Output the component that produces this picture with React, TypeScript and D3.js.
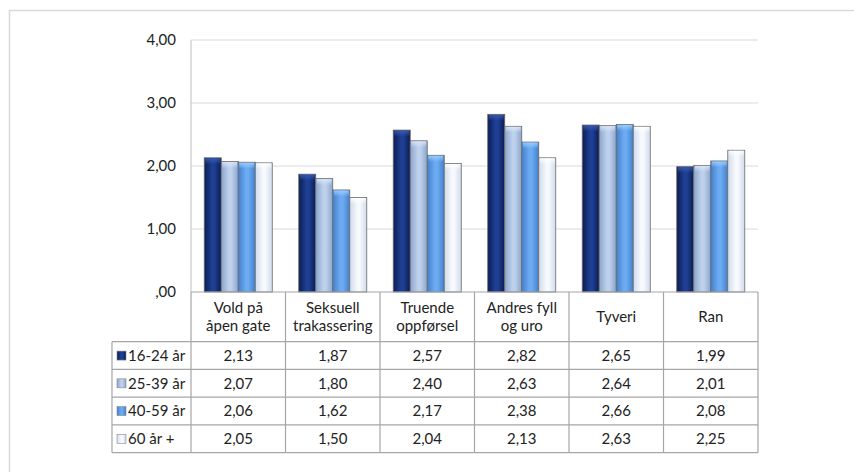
import React from "react";
import * as d3 from "d3";

const categories = [
  ["Vold på", "åpen gate"],
  ["Seksuell", "trakassering"],
  ["Truende", "oppførsel"],
  ["Andres fyll", "og uro"],
  ["Tyveri"],
  ["Ran"],
];
const seriesNames = ["16-24 år", "25-39 år", "40-59 år", "60 år +"];
const s1 = [2.13, 1.87, 2.57, 2.82, 2.65, 1.99];
const s2 = [2.07, 1.8, 2.4, 2.63, 2.64, 2.01];
const s3 = [2.06, 1.62, 2.17, 2.38, 2.66, 2.08];
const s4 = [2.05, 1.5, 2.04, 2.13, 2.63, 2.25];
const yTicks = [0, 1, 2, 3, 4];

const series = [s1, s2, s3, s4];
const palettes = [
  { edge: "#0a1d52", mid: "#1f3f94", top: "#3a5bb0" },
  { edge: "#8aa5cc", mid: "#bed1ec", top: "#dbe7f6" },
  { edge: "#4280cc", mid: "#6cabf2", top: "#9fd0ff" },
  { edge: "#cfdaea", mid: "#f6f9fd", top: "#ffffff" },
];

const W = 854;
const H = 472;
const font = "Lato, 'Open Sans', sans-serif";
const fs = 15;

export default function App() {
  const left = 191;
  const right = 758;
  const y = d3.scaleLinear().domain([0, 4]).range([292, 40]);
  const idx = categories.map((_, i) => String(i));
  const x = d3.scaleBand<string>().domain(idx).range([left, right]).padding(0);
  const bw = x.bandwidth();
  const xi = d3
    .scaleBand<string>()
    .domain(seriesNames)
    .range([bw * 0.14, bw * 0.86])
    .padding(0);
  const fmt = (v: number) => {
    const s = d3.format(".2f")(v).replace(".", ",");
    return s.startsWith("0,") ? s.slice(1) : s;
  };
  const tableTop = y(0);
  const headerBottom = 341.7;
  const rowH = 27.75;
  const tableLeft = 112;
  const rowY = seriesNames.map((_, i) => headerBottom + i * rowH);
  const tableBottom = headerBottom + seriesNames.length * rowH;
  const lineCol = "#a6a6a6";

  return (
    <svg
      width={W}
      height={H}
      style={{ position: "absolute", left: 0, top: 0, background: "#fff" }}
      fontFamily={font}
    >
      <defs>
        {palettes.map((p, i) => (
          <React.Fragment key={i}>
            <linearGradient id={`g${i}`} x1="0" x2="1" y1="0" y2="0">
              <stop offset="0" stopColor={p.edge} />
              <stop offset="0.45" stopColor={p.mid} />
              <stop offset="0.6" stopColor={p.mid} />
              <stop offset="1" stopColor={p.edge} />
            </linearGradient>
            <linearGradient id={`t${i}`} x1="0" x2="0" y1="0" y2="1">
              <stop offset="0" stopColor={p.top} stopOpacity={0.9} />
              <stop offset="1" stopColor={p.top} stopOpacity={0} />
            </linearGradient>
          </React.Fragment>
        ))}
      </defs>
      <rect x={9.5} y={10.5} width={W + 10} height={H + 10} fill="none" stroke="#d9d9d9" strokeWidth={1.5} />

      {yTicks.slice(1).map((t) => (
        <line key={t} x1={left} x2={right} y1={y(t)} y2={y(t)} stroke="#d9d9d9" strokeWidth={1} />
      ))}
      <line x1={left} x2={left} y1={y(4)} y2={y(0)} stroke="#bfbfbf" />
      {yTicks.map((t) => (
        <text key={t} x={176} y={y(t)} dy="0.35em" textAnchor="end" fontSize={fs} fill="#222">
          {fmt(t)}
        </text>
      ))}

      {series.map((vals, si) =>
        vals.map((v, ci) => {
          const bx = (x(String(ci)) as number) + (xi(seriesNames[si]) as number);
          const w = xi.bandwidth();
          const top = y(v);
          const h = y(0) - top;
          return (
            <g key={`${si}-${ci}`}>
              <rect x={bx} y={top} width={w} height={h} fill={`url(#g${si})`} stroke="#6b6b6b" strokeWidth={0.8} />
              <rect x={bx + 1} y={top + 0.5} width={w - 2} height={Math.min(6, h)} fill={`url(#t${si})`} />
            </g>
          );
        })
      )}

      {/* table */}
      <line x1={left} x2={right} y1={tableTop} y2={tableTop} stroke={lineCol} strokeWidth={1.2} />
      {idx.map((k) => (
        <line key={k} x1={x(k)! + bw} x2={x(k)! + bw} y1={tableTop} y2={tableBottom} stroke={lineCol} strokeWidth={1.2} />
      ))}
      <line x1={left} x2={left} y1={tableTop} y2={tableBottom} stroke={lineCol} strokeWidth={1.2} />
      <line x1={tableLeft} x2={tableLeft} y1={headerBottom} y2={tableBottom} stroke={lineCol} strokeWidth={1.2} />
      {[...rowY, tableBottom].map((ry, i) => (
        <line key={i} x1={tableLeft} x2={right} y1={ry} y2={ry} stroke={lineCol} strokeWidth={1.2} />
      ))}

      {categories.map((lines, ci) => {
        const cx = x(String(ci))! + bw / 2;
        const mid = (tableTop + headerBottom) / 2;
        const lh = 18.7;
        return lines.map((ln, li) => (
          <text
            key={`${ci}-${li}`}
            x={cx}
            y={mid + (li - (lines.length - 1) / 2) * lh}
            dy="0.35em"
            textAnchor="middle"
            fontSize={fs}
            fill="#222"
          >
            {ln}
          </text>
        ));
      })}

      {seriesNames.map((name, si) => {
        const cy = rowY[si] + rowH / 2;
        return (
          <g key={name}>
            <rect x={117} y={cy - 4.5} width={9} height={9} fill={`url(#g${si})`} stroke="#8a8a8a" strokeWidth={0.6} />
            <text x={128} y={cy} dy="0.35em" fontSize={fs} fill="#222">
              {name}
            </text>
            {series[si].map((v, ci) => (
              <text
                key={ci}
                x={x(String(ci))! + bw / 2}
                y={cy}
                dy="0.35em"
                textAnchor="middle"
                fontSize={fs}
                fill="#222"
              >
                {fmt(v)}
              </text>
            ))}
          </g>
        );
      })}
    </svg>
  );
}
